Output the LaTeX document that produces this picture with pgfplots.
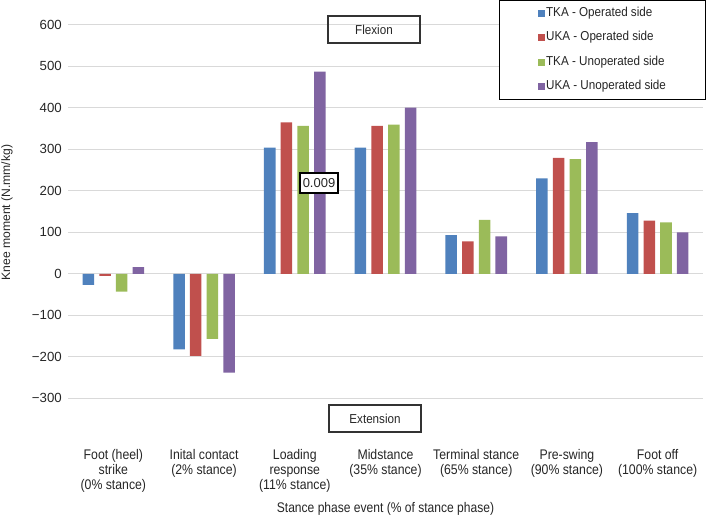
\documentclass[border=0pt]{standalone}
\usepackage{fontspec}
\setmainfont{Liberation Sans}
\newfontfamily\narrow{Liberation Sans}[FakeStretch=0.88]
\newfontfamily\narrowt{Liberation Sans}[FakeStretch=0.865]
\newfontfamily\narrowb{Liberation Sans}[FakeStretch=0.9]
\usepackage{pgfplots}
\usepackage{pgfplotstable}
\pgfplotsset{compat=1.18}
\definecolor{cA}{HTML}{4F81BD}
\definecolor{cB}{HTML}{C0504D}
\definecolor{cC}{HTML}{9BBB59}
\definecolor{cD}{HTML}{8064A2}
\definecolor{gridc}{HTML}{D9D9D9}
\pgfplotstableread{
x tkaop ukaop tkaun ukaun
0 -27 -5 -43 16
1 -182 -198 -157 -238
2 304 365 356 487
3 304 356 359 400
4 93 78 130 90
5 230 279 276 317
6 146 128 124 100
}\datatable
\begin{document}
\begin{tikzpicture}
\path[use as bounding box] (0,0) rectangle (707bp,516bp);
\begin{axis}[
  at={(68bp,117.7bp)}, anchor=south west,
  scale only axis, width=635bp, height=373.6bp,
  ybar, bar width=0.127,
  xmin=-0.5, xmax=6.5, ymin=-300, ymax=600,
  axis line style={draw=none},
  major tick length=0pt,
  ytick={-300,-200,...,600},
  yticklabels={−300,−200,−100,0,100,200,300,400,500,600},
  yticklabel style={font=\fontsize{13.3}{15}\selectfont, anchor=east, inner sep=0pt, xshift=-6bp, text=black!85},
  ymajorgrids, grid style={gridc, line width=1.1pt},
  xtick={0,1,2,3,4,5,6},
  xticklabels={Foot (heel)\\strike\\(0\% stance),Inital contact\\(2\% stance),Loading\\response\\(11\% stance),Midstance\\(35\% stance),Terminal stance\\(65\% stance),Pre-swing\\(90\% stance),Foot off\\(100\% stance)},
  xticklabel style={anchor=north, yshift=-51bp, align=center, inner sep=0pt, font=\narrow\fontsize{14}{15}\selectfont, text=black!85},
  xlabel={Stance phase event (\% of stance phase)},
  xlabel style={at={(axis description cs:0.5,-0.297)}, anchor=center, font=\narrowt\fontsize{14}{15}\selectfont, text=black!85},
  ylabel={Knee moment (N.mm/kg)},
  ylabel style={at={(axis description cs:-0.096,0.497)}, anchor=center, font=\fontsize{12.2}{14}\selectfont, text=black!85},
  every axis plot post/.append style={legend image code/.code={\fill[##1,draw=none] (0bp,-3.5bp) rectangle (7bp,3.5bp);}},
  legend style={at={(axis description cs:1.0047,1.066)}, anchor=north east, draw=black, line width=1pt, inner xsep=38bp, inner ysep=6.6bp, row sep=12.6bp, font=\narrowb\fontsize{13}{15}\selectfont, nodes={inner xsep=1.5bp, inner ysep=0pt, text height=9bp, text depth=3bp, text=black!85}},
  legend cell align=left,
]
\addplot[fill=cA, draw=none, bar shift=-0.276] table[x=x,y=tkaop]{\datatable};
\addplot[fill=cB, draw=none, bar shift=-0.092] table[x=x,y=ukaop]{\datatable};
\addplot[fill=cC, draw=none, bar shift=0.092] table[x=x,y=tkaun]{\datatable};
\addplot[fill=cD, draw=none, bar shift=0.276] table[x=x,y=ukaun]{\datatable};
\legend{TKA - Operated side,UKA - Operated side,TKA - Unoperated side,UKA - Unoperated side}
\end{axis}
\node[draw=black!80, line width=1.4pt, minimum width=92bp, minimum height=27bp, inner sep=0pt, font=\narrowb\fontsize{13}{15}\selectfont, text=black!85] at (374bp,486.5bp) {Flexion};
\node[draw=black!80, line width=1.4pt, minimum width=92bp, minimum height=27bp, inner sep=0pt, font=\narrowb\fontsize{13}{15}\selectfont, text=black!85] at (375bp,97.5bp) {Extension};
\node[draw=black, fill=white, line width=1.1pt, minimum width=38bp, minimum height=20bp, inner sep=0pt, font=\fontsize{13}{15}\selectfont, text=black!85] at (319bp,333bp) {0.009};
\end{tikzpicture}
\end{document}
